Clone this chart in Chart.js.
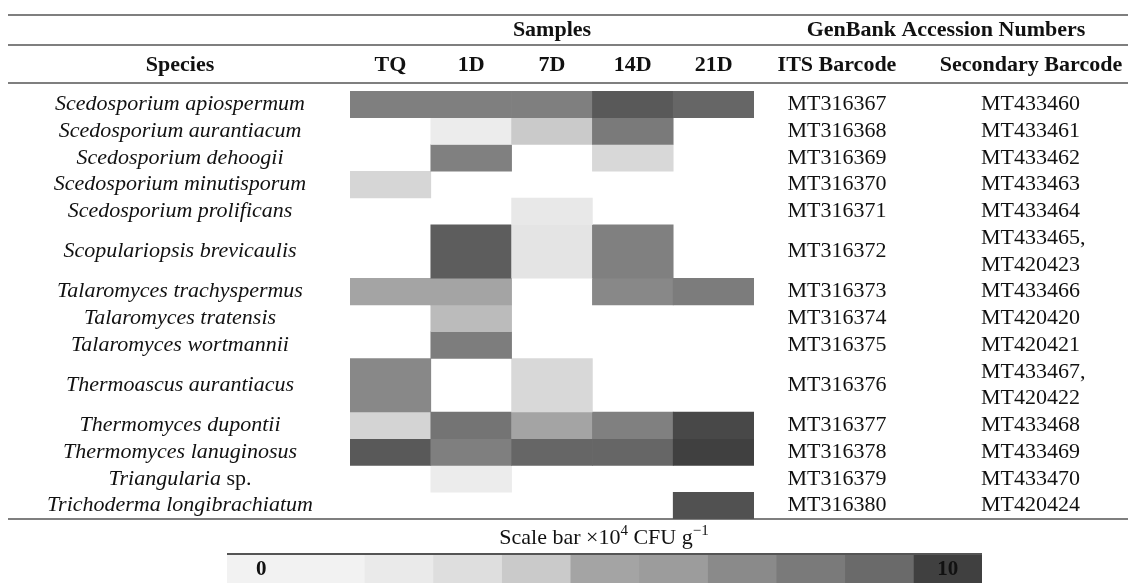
<!DOCTYPE html>
<html>
<head>
<meta charset="utf-8">
<script src="https://cdn.jsdelivr.net/npm/chart.js@4/dist/chart.umd.min.js"></script>
<style>
  html, body { margin: 0; padding: 0; background: #fff; }
  #wrap { position: relative; width: 1128px; height: 583px; }
  #heatmap { position: absolute; left: 0; top: 0; }
  #scalebar { position: absolute; left: 227px; top: 555px; }
</style>
</head>
<body>
<div id="wrap">
  <canvas id="heatmap" width="1128" height="583"></canvas>
  <canvas id="scalebar" width="755" height="28"></canvas>
</div>
<script>
const species = [
    'Scedosporium apiospermum', 'Scedosporium aurantiacum', 'Scedosporium dehoogii',
    'Scedosporium minutisporum', 'Scedosporium prolificans', 'Scopulariopsis brevicaulis',
    'Talaromyces trachyspermus', 'Talaromyces tratensis', 'Talaromyces wortmannii',
    'Thermoascus aurantiacus', 'Thermomyces dupontii', 'Thermomyces lanuginosus',
    'Triangularia sp.', 'Trichoderma longibrachiatum'
];
const samples = ['TQ', '1D', '7D', '14D', '21D'];

// ×10^4 CFU g^-1, null = not detected
const tq  = [7.7, null, null, 3.4, null, null, 5.0, null, null, 7.1, 3.5, 9.4, null, null];
const d1  = [7.7, 1.8, 7.6, null, null, 9.3, 5.0, 4.4, 7.8, null, 8.4, 7.7, 1.8, null];
const d7  = [7.7, 4.0, null, null, 2.2, 2.5, null, null, null, 3.3, 5.0, 9.1, null, null];
const d14 = [9.4, 8.0, 3.3, null, null, 7.6, 7.1, null, null, null, 7.6, 9.1, null, null];
const d21 = [9.1, null, null, null, null, null, 7.9, null, null, null, 9.8, 10, null, 9.6];

const itsBarcodes = [
    'MT316367', 'MT316368', 'MT316369', 'MT316370', 'MT316371', 'MT316372', 'MT316373',
    'MT316374', 'MT316375', 'MT316376', 'MT316377', 'MT316378', 'MT316379', 'MT316380'
];
const secondaryBarcodes = [
    ['MT433460'], ['MT433461'], ['MT433462'], ['MT433463'], ['MT433464'],
    ['MT433465,', 'MT420423'], ['MT433466'], ['MT420420'], ['MT420421'],
    ['MT433467,', 'MT420422'], ['MT433468'], ['MT433469'], ['MT433470'], ['MT420424']
];

// scale bar: 0 .. 10
const scaleTicks = [0, 1, 2, 3, 4, 5, 6, 7, 8, 9, 10];
const scaleGreys = [242, 242, 234, 222, 202, 164, 156, 138, 122, 106, 64];

const FONT = '"Liberation Serif", "Times New Roman", serif';

function greyFor(v) {
    const lo = Math.max(0, Math.min(9, Math.floor(v)));
    const t = Math.min(1, v - lo);
    const g = Math.round(scaleGreys[lo] + (scaleGreys[lo + 1] - scaleGreys[lo]) * t);
    return `rgb(${g},${g},${g})`;
}

// row extents in "line" units (two-line rows are twice as tall)
const rowSpans = secondaryBarcodes.map(s => s.length);
const rowStarts = [];
rowSpans.reduce((acc, s, i) => { rowStarts[i] = acc; return acc + s; }, 0);
const totalUnits = rowSpans.reduce((a, b) => a + b, 0);

const columns = [tq, d1, d7, d14, d21];
const datasets = species.map((name, r) => ({
    label: name,
    data: columns.map(col => col[r] == null ? null : [rowStarts[r], rowStarts[r] + rowSpans[r]]),
    backgroundColor: columns.map(col => col[r] == null ? 'rgba(0,0,0,0)' : greyFor(col[r])),
    borderWidth: 0,
    grouped: false,
    barPercentage: 1,
    categoryPercentage: 1
}));

function drawRule(ctx, x1, x2, y) {
    ctx.beginPath();
    ctx.moveTo(x1, y);
    ctx.lineTo(x2, y);
    ctx.stroke();
}

function drawParts(ctx, parts, cx, cy) {
    // parts: [{text, font, dy}]
    let total = 0;
    parts.forEach(p => { ctx.font = p.font; total += ctx.measureText(p.text).width; });
    let x = cx - total / 2;
    ctx.textAlign = 'left';
    parts.forEach(p => {
        ctx.font = p.font;
        ctx.fillText(p.text, x, cy + (p.dy || 0));
        x += ctx.measureText(p.text).width;
    });
}

const tablePlugin = {
    id: 'tableText',
    afterDraw(chart) {
        const ctx = chart.ctx;
        const xs = chart.scales.x, ys = chart.scales.y;
        ctx.save();
        ctx.fillStyle = '#111';
        ctx.strokeStyle = '#555';
        ctx.lineWidth = 1.5;
        drawRule(ctx, 8, 1128, 15);
        drawRule(ctx, 8, 1128, 45);
        drawRule(ctx, 8, 1128, 83);
        drawRule(ctx, 8, 1128, 519);
        ctx.lineWidth = 2;
        drawRule(ctx, 227, 982, 554);

        ctx.textBaseline = 'middle';
        ctx.textAlign = 'center';
        ctx.font = 'bold 22px ' + FONT;
        ctx.fillText('Samples', (xs.left + xs.right) / 2, 30);
        ctx.fillText('GenBank Accession Numbers', 946, 30);
        ctx.fillText('Species', 180, 65);
        samples.forEach((s, i) => ctx.fillText(s, xs.getPixelForValue(i), 65));
        ctx.fillText('ITS Barcode', 837, 65);
        ctx.fillText('Secondary Barcode', 1031, 65);

        species.forEach((name, r) => {
            const cy = ys.getPixelForValue(rowStarts[r] + rowSpans[r] / 2);
            if (name.endsWith(' sp.')) {
                drawParts(ctx, [
                    { text: name.replace(' sp.', ''), font: 'italic 22px ' + FONT },
                    { text: ' sp.', font: '22px ' + FONT }
                ], 180, cy);
            } else {
                ctx.textAlign = 'center';
                ctx.font = 'italic 22px ' + FONT;
                ctx.fillText(name, 180, cy);
            }
            ctx.textAlign = 'center';
            ctx.font = '22px ' + FONT;
            ctx.fillText(itsBarcodes[r], 837, cy);
            secondaryBarcodes[r].forEach((code, k) => {
                const ly = ys.getPixelForValue(rowStarts[r] + k + 0.5);
                ctx.textAlign = 'left';
                ctx.fillText(code, 981, ly);
            });
        });

        drawParts(ctx, [
            { text: 'Scale bar \u00d710', font: '22px ' + FONT },
            { text: '4', font: '15px ' + FONT, dy: -7 },
            { text: ' CFU g', font: '22px ' + FONT },
            { text: '\u22121', font: '15px ' + FONT, dy: -7 }
        ], 604, 538);
        ctx.restore();
    }
};

new Chart(document.getElementById('heatmap').getContext('2d'), {
    type: 'bar',
    data: { labels: samples, datasets: datasets },
    options: {
        responsive: false,
        animation: false,
        devicePixelRatio: 1,
        layout: { padding: { left: 350, right: 374, top: 91, bottom: 64 } },
        plugins: { legend: { display: false }, tooltip: { enabled: false } },
        scales: {
            x: { display: false, offset: true },
            y: { display: false, min: 0, max: totalUnits, reverse: true }
        }
    },
    plugins: [tablePlugin]
});

// colour scale bar
const scaleLabelPlugin = {
    id: 'scaleLabels',
    afterDraw(chart) {
        const ctx = chart.ctx, xs = chart.scales.x;
        const cy = (chart.chartArea.top + chart.chartArea.bottom) / 2;
        ctx.save();
        ctx.fillStyle = '#111';
        ctx.font = 'bold 21px ' + FONT;
        ctx.textAlign = 'center';
        ctx.textBaseline = 'middle';
        [0, 10].forEach(v => ctx.fillText(String(v), xs.getPixelForValue(v + 0.5), cy + 1));
        ctx.restore();
    }
};

new Chart(document.getElementById('scalebar').getContext('2d'), {
    type: 'bar',
    data: {
        labels: [''],
        datasets: scaleTicks.map(v => ({
            label: String(v),
            data: [1],
            backgroundColor: greyFor(v),
            borderWidth: 0,
            barPercentage: 1,
            categoryPercentage: 1
        }))
    },
    options: {
        indexAxis: 'y',
        responsive: false,
        animation: false,
        devicePixelRatio: 1,
        layout: { padding: 0 },
        plugins: { legend: { display: false }, tooltip: { enabled: false } },
        scales: {
            x: { display: false, stacked: true, min: 0, max: scaleTicks.length },
            y: { display: false, stacked: true }
        }
    },
    plugins: [scaleLabelPlugin]
});
</script>
</body>
</html>
